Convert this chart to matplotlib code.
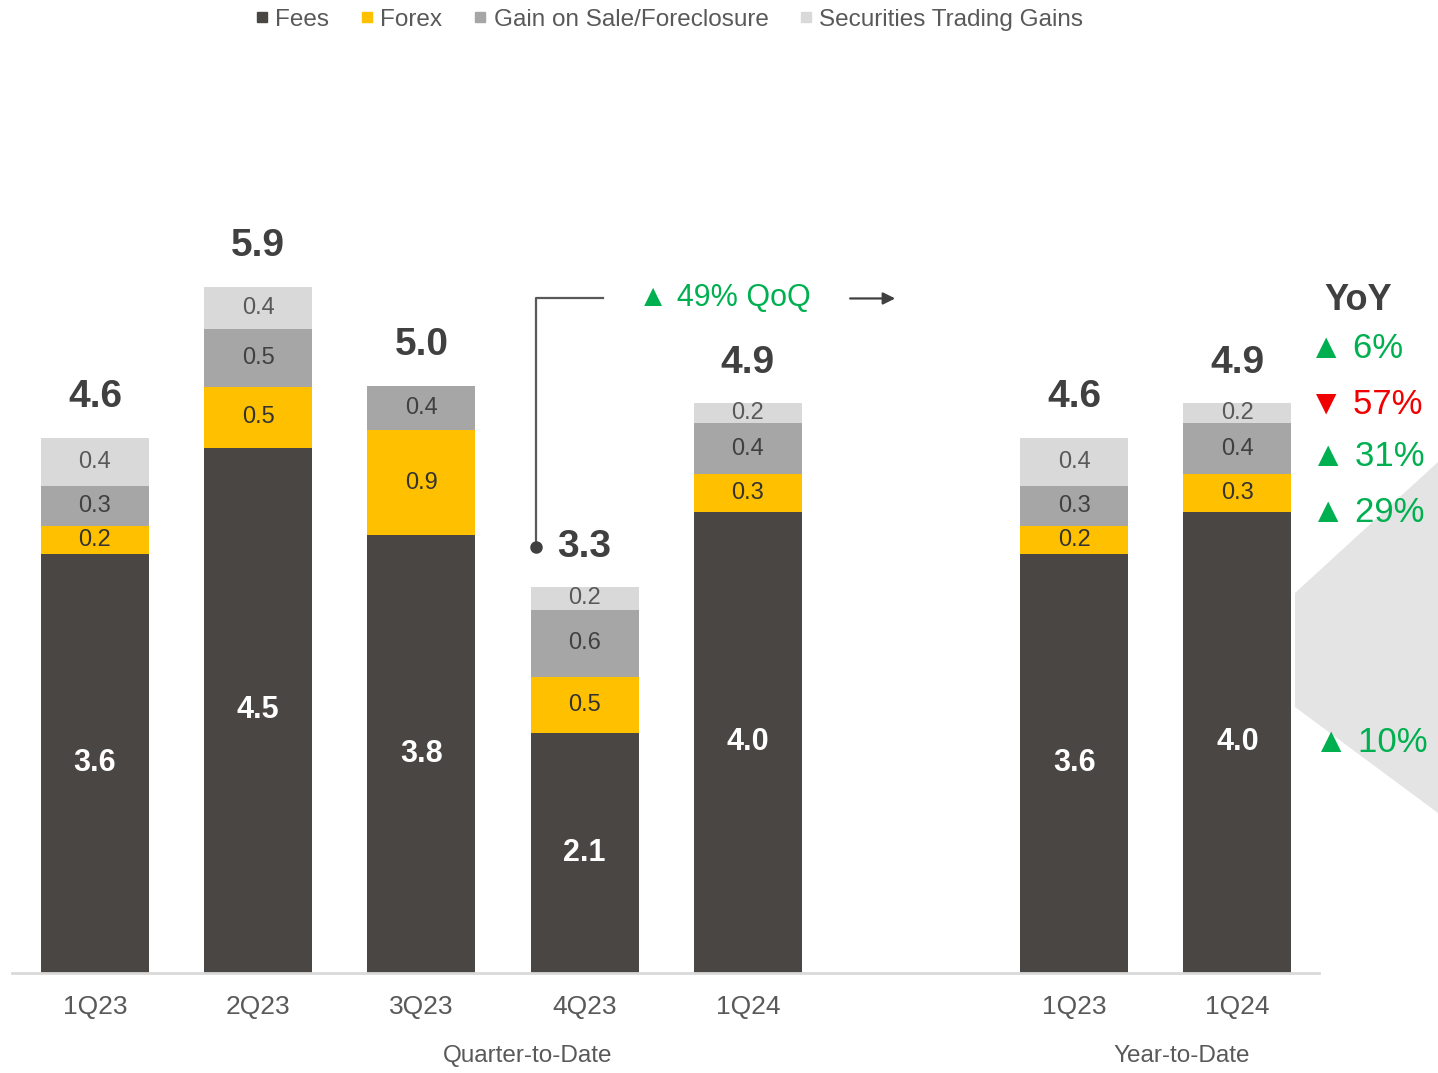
#-------------------------------------------------------------------------
# Non-interest income breakdown: quarterly and year-to-date stacked bars
#-------------------------------------------------------------------------

import matplotlib.pyplot as plt
from matplotlib.lines import Line2D
from matplotlib.patches import Polygon
import numpy as np

plt.rcParams['font.family'] = ['Liberation Sans', 'DejaVu Sans']

#-------------------------------------------------------------------------
# Data (PHP bn)
#-------------------------------------------------------------------------

periods   = ['1Q23', '2Q23', '3Q23', '4Q23', '1Q24', '1Q23', '1Q24']
positions = [0, 1, 2, 3, 4, 6, 7]

fees       = [3.60, 4.51, 3.76, 2.06, 3.96, 3.60, 3.96]
forex      = [0.24, 0.52, 0.90, 0.48, 0.32, 0.24, 0.32]
gain_sale  = [0.34, 0.50, 0.38, 0.58, 0.44, 0.34, 0.44]
securities = [0.41, 0.36, 0.00, 0.19, 0.17, 0.41, 0.17]

series_names = ['Fees', 'Forex', 'Gain on Sale/Foreclosure', 'Securities Trading Gains']

qoq_label  = '49% QoQ'
yoy_labels = ['6%', '57%', '31%', '29%', '10%']
yoy_up     = [True, False, True, True, True]

#-------------------------------------------------------------------------
# Style
#-------------------------------------------------------------------------

W, H = 1438, 1073
colors    = ['#4A4643', '#FFC000', '#A6A6A6', '#D9D9D9']
lbl_color = ['white', '#333333', '#404040', '#595959']
green, red = '#00B050', '#F00000'
dark, mid  = '#404040', '#595959'

unit_px = 163.2   # pixels per category slot

def fx(px):
  return px / W

def fy(py):
  return 1.0 - py / H

#-------------------------------------------------------------------------
# Create plot
#-------------------------------------------------------------------------

fig = plt.figure(figsize=(W / 100, H / 100), dpi=100)
ax = fig.add_axes([0, 100 / H, 1, 973 / H])
ax.patch.set_visible(False)

ax.set_xlim(-95 / unit_px, (W - 95) / unit_px)
ax.set_ylim(0, 973 / 116.5)

# grey slide decoration behind the right edge
deco = Polygon([(fx(1295), fy(593)), (fx(1438), fy(462)),
                (fx(1438), fy(813)), (fx(1295), fy(707))],
               closed=True, transform=fig.transFigure,
               facecolor='#E4E4E4', edgecolor='none', zorder=0.5)
ax.add_patch(deco)

stack  = np.array([fees, forex, gain_sale, securities])
bottom = np.zeros(len(positions))
for i, vals in enumerate(stack):
  ax.bar(positions, vals, width=0.662, bottom=bottom, color=colors[i],
         linewidth=0, zorder=2)
  for x, b, v in zip(positions, bottom, vals):
    if v < 0.1:
      continue
    if i == 0:
      ax.text(x, b + v / 2, f'{v:.1f}', ha='center', va='center',
              fontsize=22, fontweight='bold', color='white', zorder=4)
    else:
      ax.text(x, b + v / 2, f'{v:.1f}', ha='center', va='center',
              fontsize=17, color=lbl_color[i], zorder=4)
  bottom = bottom + vals

totals = bottom
for x, t in zip(positions, totals):
  ax.text(x, t + 0.35, f'{t:.1f}', ha='center', va='center',
          fontsize=28, fontweight='bold', color=dark, zorder=4)

# baseline
ax.plot([-0.51, 7.5], [0, 0], color='#D9D9D9', lw=2, zorder=3,
        clip_on=False)

for s in ax.spines.values():
  s.set_visible(False)
ax.set_yticks([])
ax.set_xticks(positions, periods)
ax.tick_params(axis='x', length=0, pad=16, labelsize=19, labelcolor=mid)

fig.text(fx(528), fy(1056), 'Quarter-to-Date', ha='center', va='center',
         fontsize=17.5, color=mid)
fig.text(fx(1182), fy(1056), 'Year-to-Date', ha='center', va='center',
         fontsize=17.5, color=mid)

#-------------------------------------------------------------------------
# QoQ bracket from 4Q23 to 1Q24
#-------------------------------------------------------------------------

x0 = positions[3] - 0.30
y0 = totals[3] + 0.35
yb = 5.79
ax.plot([x0, x0, 3.11], [y0, yb, yb], color=mid, lw=1.6, zorder=3)
ax.plot(x0, y0, 'o', ms=8, color=dark, zorder=4)
ax.annotate('', xy=(4.92, yb), xytext=(4.61, yb),
            arrowprops=dict(arrowstyle='-|>', color=dark, lw=1.6,
                            mutation_scale=18))
ax.text(3.33, yb, '\u25B2 ' + qoq_label, ha='left', va='center',
        fontsize=22, color=green, zorder=4)

#-------------------------------------------------------------------------
# YoY column
#-------------------------------------------------------------------------

fig.text(fx(1358), fy(301), 'YoY', ha='center', va='center',
         fontsize=26, fontweight='bold', color=dark)

yoy_rows = [(1309, 348), (1309, 404), (1311, 456), (1311, 512), (1314, 742)]
for (px, py), lab, up in zip(yoy_rows, yoy_labels, yoy_up):
  sym = '\u25B2' if up else '\u25BC'
  fig.text(fx(px), fy(py), sym + ' ' + lab, ha='left', va='center',
           fontsize=25, color=green if up else red)

#-------------------------------------------------------------------------
# Legend
#-------------------------------------------------------------------------

handles = [Line2D([], [], marker='s', ls='', color=c, markersize=7)
           for c in colors]
fig.legend(handles, series_names, loc='center left',
           bbox_to_anchor=(fx(256), fy(20)), ncol=4, frameon=False,
           fontsize=17.5, labelcolor=mid, handlelength=0.5,
           handletextpad=0.3, columnspacing=1.3, borderpad=0,
           borderaxespad=0)

plt.savefig('out.png', dpi=100)
